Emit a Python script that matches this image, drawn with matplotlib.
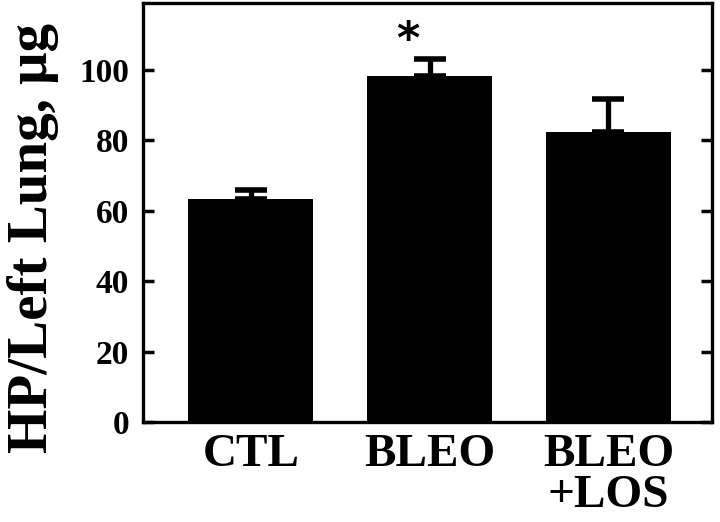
import matplotlib
matplotlib.use("Agg")
import matplotlib.pyplot as plt

categories = ["CTL", "BLEO", "BLEO\n+LOS"]
values = [63.4, 98.3, 82.4]
errors = [2.5, 4.8, 9.4]
yticks = [0, 20, 40, 60, 80, 100]

plt.rcParams['font.family'] = ['Liberation Serif', 'DejaVu Serif']
plt.rcParams['font.weight'] = 'bold'

fig = plt.figure(figsize=(7.2, 5.22), dpi=100)
ax = fig.add_axes([0.1986, 0.1916, 0.7904, 0.8024])

x = list(range(len(categories)))
ax.bar(x, values, width=0.70, color='black', zorder=2)
ax.errorbar(x, values, yerr=[[0]*len(errors), errors], fmt='none',
            ecolor='black', elinewidth=3.8, capsize=11.5, capthick=4, zorder=1)

ax.text(0.877, 108.3, '*', fontsize=32, fontweight='bold', ha='center', va='center',
        family=['DejaVu Sans'])

ax.set_xlim(-0.603, 2.58)
ax.set_ylim(0, 119)
ax.set_yticks(yticks)
ax.set_yticklabels([str(t) for t in yticks], fontsize=24, fontweight='bold')
ax.set_xticks(x)
ax.set_xticklabels(categories, fontsize=34, fontweight='bold', linespacing=0.95)
ax.tick_params(axis='x', length=0, pad=9)
ax.tick_params(axis='y', direction='in', length=8, width=2.5, pad=10,
               right=True, left=True)
for s in ax.spines.values():
    s.set_linewidth(2.4)

fig.text(33 / 720, 1 - 238 / 522, 'HP/Left Lung, μg', fontsize=41, fontweight='bold',
         rotation=90, ha='center', va='center')

fig.savefig('out.png', dpi=100)
